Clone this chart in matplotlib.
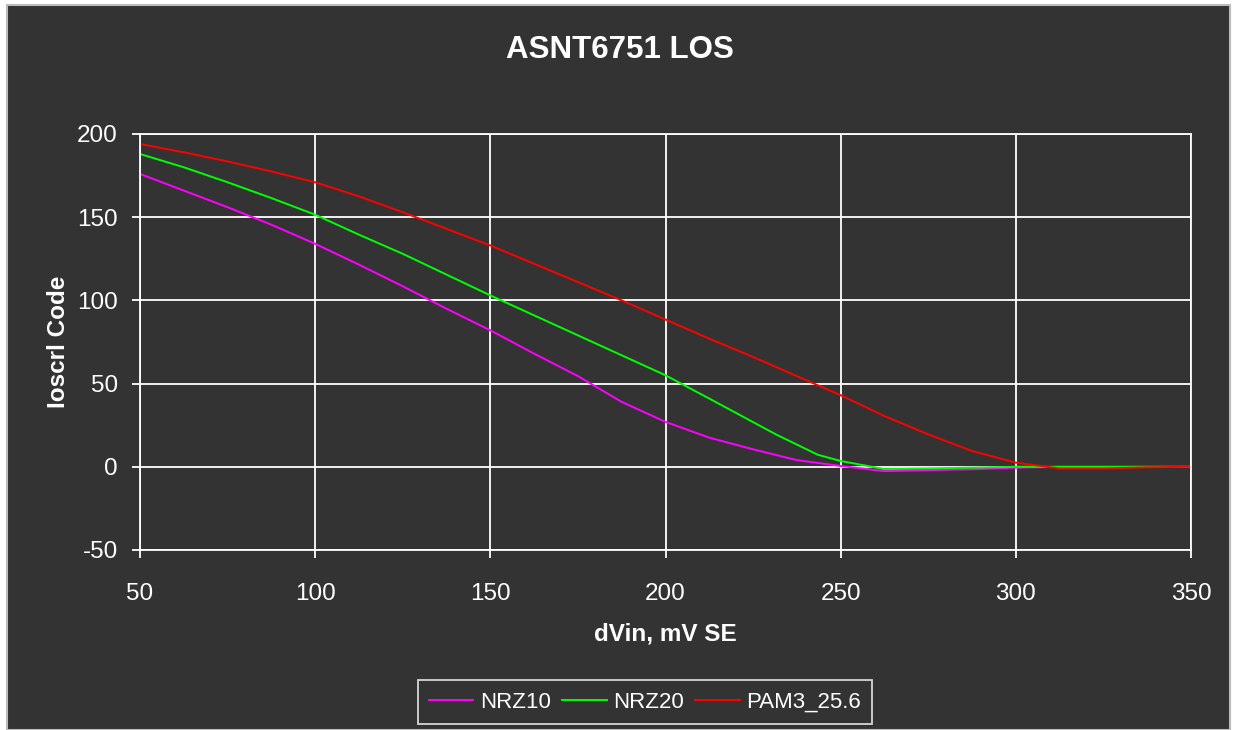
import matplotlib
matplotlib.use('Agg')
import matplotlib.pyplot as plt
from matplotlib.patches import Rectangle

plt.rcParams['font.family'] = ['Liberation Sans', 'DejaVu Sans']
plt.rcParams['axes.unicode_minus'] = False

# data
x_nrz10 = [50, 62.5, 75, 87.5, 100, 112.5, 125, 137.5, 150, 162.5, 175, 187.5, 200,
           212.5, 225, 237.5, 250, 262.5, 275, 287.5, 300, 312.5, 325, 337.5, 350]
y_nrz10 = [176, 166, 156, 145.5, 134, 121.5, 108.5, 95, 82, 68, 54.5, 39, 27,
           17.5, 10.5, 4, 0.5, -2.6, -2, -1.5, -0.5, 0, 0, 0, 0]

x_nrz20 = [50, 62.5, 75, 87.5, 100, 112.5, 125, 137.5, 150, 162.5, 175, 187.5, 200,
           212.5, 231.5, 243.5, 250, 262.5, 275, 287.5, 300, 312.5, 325, 337.5, 350]
y_nrz20 = [188, 180, 171, 161.5, 151.5, 139.5, 128, 115.5, 103, 91, 79, 67, 55,
           41, 19.5, 7.2, 3.5, -1.4, -1, -0.5, 0, 0, 0, 0, 0]

x_pam3 = [50, 62.5, 75, 87.5, 100, 112.5, 125, 137.5, 150, 162.5, 175, 187.5, 200,
          212.5, 225, 237.5, 250, 262.5, 275, 287.5, 300, 312.5, 325, 337.5, 350]
y_pam3 = [194, 189, 183.5, 177.5, 171, 162.5, 153, 143, 133, 122, 111, 100, 88.5,
          77, 66, 54.5, 43, 30.5, 19.5, 9.5, 2.5, -1, -1, -0.3, 0]

xticks = [50, 100, 150, 200, 250, 300, 350]
yticks = [-50, 0, 50, 100, 150, 200]

bg = '#333333'
fig = plt.figure(figsize=(12.33, 7.3), dpi=100, facecolor='white')
fig.patches.append(Rectangle((7 / 1233, 0), 1223 / 1233, 725 / 730, transform=fig.transFigure,
                             facecolor=bg, edgecolor='#bbbbbb', linewidth=1.5, zorder=-10))

ax = fig.add_axes([140 / 1233, 1 - 550 / 730, 1051 / 1233, 416 / 730])
ax.set_facecolor(bg)

ax.plot(x_nrz10, y_nrz10, color='#FF00FF', lw=1.4, label='NRZ10')
ax.plot(x_nrz20, y_nrz20, color='#00FF00', lw=1.4, label='NRZ20')
ax.plot(x_pam3, y_pam3, color='#FF0000', lw=1.4, label='PAM3_25.6')

ax.set_xlim(50, 350)
ax.set_ylim(-50, 200)
ax.set_xticks(xticks)
ax.set_yticks(yticks)
ax.grid(True, color='white', lw=1.3)
ax.set_axisbelow(True)
for s in ax.spines.values():
    s.set_color('white')
    s.set_linewidth(1.3)
ax.tick_params(colors='white', labelsize=17.5, length=6, width=1.3, direction='out')
ax.tick_params(axis='x', pad=18)
ax.tick_params(axis='y', pad=10)

ax.set_xlabel('dVin, mV SE', color='white', fontsize=17.5, fontweight='bold', labelpad=12)
ax.set_ylabel('Ioscrl Code', color='white', fontsize=17.5, fontweight='bold', labelpad=5)
fig.text(620 / 1233, 1 - 50 / 730, 'ASNT6751 LOS', color='white', fontsize=22.5,
         fontweight='bold', ha='center', va='center')

leg = fig.legend(loc='center', bbox_to_anchor=(645 / 1233, 1 - 702 / 730), ncol=3,
                 fontsize=16, frameon=True, fancybox=False, handlelength=2.0,
                 handletextpad=0.3, columnspacing=0.5, borderpad=0.5)
leg.get_frame().set_facecolor(bg)
leg.get_frame().set_edgecolor('white')
leg.get_frame().set_linewidth(1.3)
for t in leg.get_texts():
    t.set_color('white')

fig.savefig('out.png', dpi=100, facecolor=fig.get_facecolor())
